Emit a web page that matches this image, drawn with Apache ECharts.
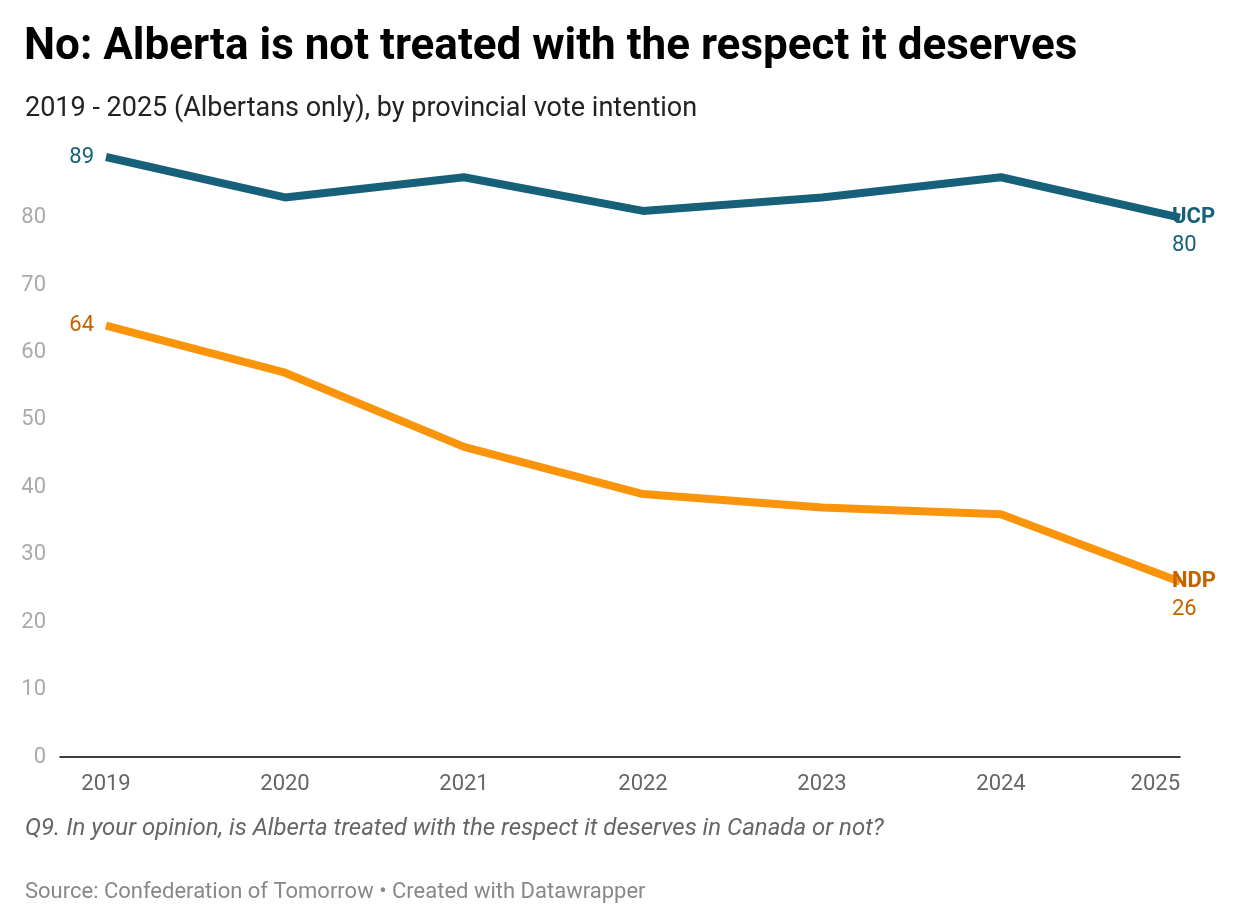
<!DOCTYPE html><html><head><meta charset="utf-8">
<script src="https://cdn.jsdelivr.net/npm/echarts@6/dist/echarts.min.js"></script>
<style>body{margin:0;background:#fff}#c{width:1240px;height:922px}</style></head><body><div id="c"></div>
<script>
const years=[2019,2020,2021,2022,2023,2024,2025];
const ucp=[89,83,86,81,83,86,80];
const ndp=[64,57,46,39,37,36,26];
const yTicks=[0,10,20,30,40,50,60,70,80];
const F='Roboto';
function mk(name,vals,color,labColor){
  const n=vals.length;
  return {type:'line',name,symbol:'circle',symbolSize:0,clip:false,lineStyle:{width:8,color},itemStyle:{color},
    data:vals.map((v,i)=>{const d={value:[years[i],v]};
      if(i===0)d.label={show:true,position:'left',distance:12,formatter:String(v),color:labColor,fontSize:22,fontFamily:F};
      if(i===n-1)d.label={show:true,position:'right',distance:-8,formatter:'{c| }\n{a|'+name+'}\n{b|'+v+'}',
        rich:{a:{fontWeight:'bold',fontSize:22,color:labColor,fontFamily:F,lineHeight:28},b:{fontSize:22,color:labColor,fontFamily:F,lineHeight:28},c:{fontSize:22,lineHeight:28}}};
      return d;})};
}
const ch=echarts.init(document.getElementById('c'));
ch.setOption({animation:false,
 title:[{text:'No: Alberta is not treated with the respect it deserves',left:19,top:21,textStyle:{fontFamily:F,fontWeight:'bold',fontSize:44,color:'#000'}},
  {text:'2019 - 2025 (Albertans only), by provincial vote intention',left:20,top:91,textStyle:{fontFamily:F,fontWeight:'normal',fontSize:27,color:'#222'}},
  {text:'Q9. In your opinion, is Alberta treated with the respect it deserves in Canada or not?',left:20,top:812,textStyle:{fontFamily:F,fontStyle:'italic',fontWeight:'normal',fontSize:24,color:'#666'}},
  {text:'Source: Confederation of Tomorrow • Created with Datawrapper',left:20,top:876,textStyle:{fontFamily:F,fontWeight:'normal',fontSize:22,color:'#888'}}],
 grid:{left:60,right:60,top:157,bottom:165},
 xAxis:{type:'value',min:2018.743,max:2025,splitLine:{show:false},
  axisLine:{lineStyle:{color:'#000',width:1.5}},axisTick:{show:false},
  axisLabel:{customValues:years,formatter:v=>String(v),alignMaxLabel:'right',fontFamily:F,fontSize:22,color:'#666',margin:16}},
 yAxis:{type:'value',min:0,max:89,interval:10,splitLine:{show:false},axisLine:{show:false},axisTick:{show:false},
  axisLabel:{customValues:yTicks,fontFamily:F,fontSize:22,color:'#aaa',margin:14}},
 series:[mk('UCP',ucp,'#16607a','#16607a'),mk('NDP',ndp,'#fa940a','#c46200')]
});
</script></body></html>
